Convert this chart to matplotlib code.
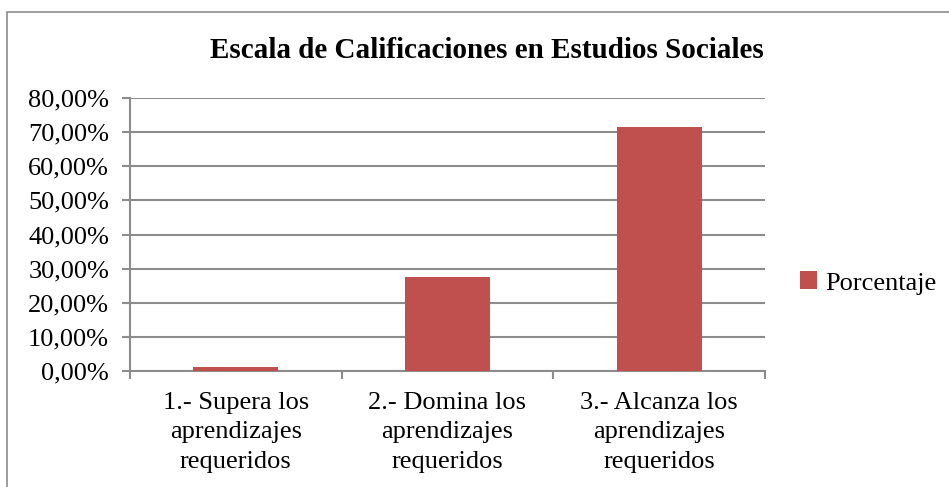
import matplotlib.pyplot as plt
from matplotlib.patches import Rectangle

plt.rcParams['font.family'] = ['Liberation Serif', 'DejaVu Serif']

title = "Escala de Calificaciones en Estudios Sociales"
categories = ["1.- Supera los\naprendizajes\nrequeridos",
              "2.- Domina los\naprendizajes\nrequeridos",
              "3.- Alcanza los\naprendizajes\nrequeridos"]
porcentaje = [1.1, 27.5, 71.5]
series_name = "Porcentaje"
yticks = [0, 10, 20, 30, 40, 50, 60, 70, 80]

bar_color = "#C0504D"
grid_color = "#8C8C8C"

fig = plt.figure(figsize=(9.49, 4.87), dpi=100)

# outer chart frame (Excel style)
fig.patches.append(Rectangle((7 / 949, -0.01), 1.0, 1 - 12 / 487 + 0.01,
                             transform=fig.transFigure, fill=False,
                             edgecolor="#8C8C8C", lw=1.2))

ax = fig.add_axes([130 / 949, 1 - 371 / 487, 635 / 949, 273 / 487])
x = range(len(categories))
ax.bar(x, porcentaje, width=0.4, color=bar_color, zorder=3, label=series_name)

ax.set_xlim(-0.5, len(categories) - 0.5)
ax.set_ylim(0, 80)
ax.set_yticks(yticks)
ax.set_yticklabels(["%d,00%%" % v for v in yticks], fontsize=19)
ax.yaxis.grid(True, color=grid_color, lw=1.5, zorder=0)

ax.set_xticks([i - 0.5 for i in range(len(categories) + 1)])
ax.set_xticklabels([])
ax.set_xticks(list(x), minor=True)
ax.set_xticklabels(categories, minor=True, fontsize=19, linespacing=1.45)
ax.tick_params(axis="x", which="minor", length=0, pad=15)
ax.tick_params(axis="x", which="major", length=6, color=grid_color, width=1.5)
ax.tick_params(axis="y", length=6, color=grid_color, width=1.5, pad=9)

for s in ["top", "right"]:
    ax.spines[s].set_visible(False)
for s in ["left", "bottom"]:
    ax.spines[s].set_color(grid_color)
    ax.spines[s].set_linewidth(1.5)

fig.text(487 / 949, 1 - 50 / 487, title, ha="center", va="center",
         fontsize=21, fontweight="bold")

fig.legend(loc="center left", bbox_to_anchor=(800 / 949, 1 - 283 / 487),
           frameon=False, fontsize=19, handlelength=0.65, handleheight=0.65,
           handletextpad=0.3, borderaxespad=0.0, borderpad=0.0)

fig.savefig("out.png", dpi=100)
